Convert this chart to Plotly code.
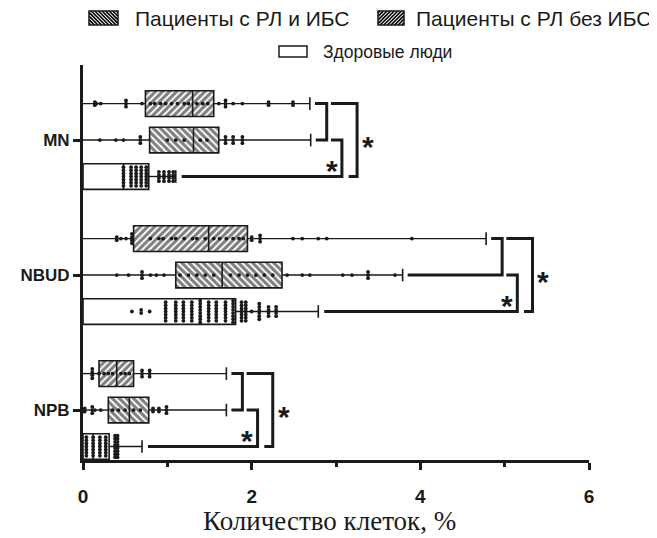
import plotly.graph_objects as go
from collections import Counter

# ---------------- data ----------------
groups = ["MN", "NBUD", "NPB"]
group_pos = [2, 1, 0]
series_names = ["Пациенты с РЛ без ИБС", "Пациенты с РЛ и ИБС", "Здоровые люди"]
x_title = "Количество клеток, %"

# box statistics, ordered as groups (MN, NBUD, NPB)
min_bez = [0.0, 0.0, 0.0]
q1_bez = [0.74, 0.60, 0.19]
med_bez = [1.30, 1.49, 0.40]
q3_bez = [1.55, 1.95, 0.60]
max_bez = [2.69, 4.78, 1.70]

min_ibs = [0.0, 0.0, 0.0]
q1_ibs = [0.79, 1.10, 0.30]
med_ibs = [1.31, 1.65, 0.55]
q3_ibs = [1.61, 2.36, 0.78]
max_ibs = [2.70, 3.79, 1.70]

min_h = [0.0, 0.0, 0.0]
q1_h = [0.0, 0.0, 0.0]
med_h = [0.48, 1.39, 0.12]
q3_h = [0.78, 1.81, 0.31]
max_h = [1.10, 2.79, 0.70]

# individual observations (repeated values are stacked)
pts_bez_MN = [0.14, 0.14, 0.16, 0.21, 0.51, 0.51, 0.51, 0.70, 0.80, 0.85, 0.92, 0.98, 1.05,
              1.12, 1.20, 1.25, 1.35, 1.42, 1.48, 1.61, 1.69, 1.69, 1.69, 1.78, 1.89,
              2.20, 2.20, 2.49, 2.49]
pts_ibs_MN = [0.20, 0.39, 0.48, 0.68, 0.68, 0.68, 1.00, 1.10, 1.20, 1.39, 1.47,
              1.69, 1.69, 1.69, 1.78, 1.78, 1.78, 1.89, 1.89, 1.89]
pts_h_MN = [0.48] * 7 + [0.57] * 7 + [0.63] * 7 + [0.69] * 7 + [0.75] * 7 + \
           [0.90] * 4 + [0.96] * 4 + [1.02] * 4 + [1.07] * 4

pts_bez_NBUD = [0.40, 0.40, 0.45, 0.51, 0.58, 0.58, 0.58, 0.58, 0.80, 0.90, 0.95, 1.05,
                1.10, 1.20, 1.30, 1.35, 1.45, 1.55, 1.62, 1.70, 1.78, 1.85, 1.90,
                2.00, 2.00, 2.10, 2.10, 2.10, 2.49, 2.60, 2.79, 2.89, 3.90]
pts_ibs_NBUD = [0.40, 0.54, 0.70, 0.70, 0.70, 0.80, 0.87, 0.96, 1.15, 1.25, 1.35, 1.45,
                1.55, 1.75, 1.85, 1.95, 2.05, 2.15, 2.25, 2.42, 2.60, 2.69, 3.08, 3.19,
                3.38, 3.38, 3.38, 3.70]
pts_h_NBUD = [0.58, 0.69, 0.69, 0.79] + [0.98] * 7 + [1.10] * 7 + [1.19] * 7 + [1.29] * 7 + \
             [1.39] * 8 + [1.49] * 7 + [1.58] * 7 + [1.69] * 7 + [1.78] * 8 + \
             [1.88] * 7 + [1.93] * 7 + [2.00] + [2.09] * 6 + [2.20] * 4 + [2.29] * 4

pts_bez_NPB = [0.11, 0.11, 0.11, 0.11, 0.19, 0.25, 0.30, 0.35, 0.45, 0.50, 0.55,
               0.70, 0.70, 0.70, 0.79, 0.79, 0.79]
pts_ibs_NPB = [0.02, 0.02, 0.11, 0.11, 0.11, 0.14, 0.21, 0.35, 0.42, 0.50, 0.60, 0.68,
               0.83, 0.83, 0.90, 0.90, 0.99, 0.99, 0.99]
pts_h_NPB = [0.04] * 7 + [0.12] * 7 + [0.20] * 7 + [0.27] * 7 + [0.38] * 8 + [0.41] * 8

# ---------------- style ----------------
INK = "#1a1a1a"
row_offsets = [0.27, 0.0, -0.27]      # top, middle, bottom row inside a group
box_h = 0.19
stack_step = 0.023
patterns = ["/", "\\", ""]

series = [
    dict(name=series_names[0], mn=min_bez, q1=q1_bez, med=med_bez, q3=q3_bez, mx=max_bez,
         pts=[pts_bez_MN, pts_bez_NBUD, pts_bez_NPB]),
    dict(name=series_names[1], mn=min_ibs, q1=q1_ibs, med=med_ibs, q3=q3_ibs, mx=max_ibs,
         pts=[pts_ibs_MN, pts_ibs_NBUD, pts_ibs_NPB]),
    dict(name=series_names[2], mn=min_h, q1=q1_h, med=med_h, q3=q3_h, mx=max_h,
         pts=[pts_h_MN, pts_h_NBUD, pts_h_NPB]),
]


def stack(values, yc):
    xs, ys = [], []
    for v, n in Counter(values).items():
        for k in range(n):
            xs.append(v)
            ys.append(yc + (k - (n - 1) / 2) * stack_step)
    return xs, ys


fig = go.Figure()

for si, s in enumerate(series):
    ys = [gp + row_offsets[si] for gp in group_pos]
    fig.add_trace(go.Bar(
        orientation="h", y=ys, base=s["q1"],
        x=[b - a for a, b in zip(s["q1"], s["q3"])],
        width=box_h, showlegend=False, hoverinfo="skip",
        marker=dict(color="white", line=dict(color=INK, width=1.6),
                    pattern=dict(shape=patterns[si], fgcolor="#000000", bgcolor="white",
                                 size=5, solidity=0.62)),
    ))
    wx, wy, mxs, mys = [], [], [], []
    for gi in range(3):
        y = ys[gi]
        if s["q1"][gi] > s["mn"][gi]:
            wx += [s["mn"][gi], s["q1"][gi], None]
            wy += [y, y, None]
        wx += [s["q3"][gi], s["mx"][gi], None]
        wy += [y, y, None]
        mxs += [s["med"][gi], s["med"][gi], None]
        mys += [y - box_h / 2, y + box_h / 2, None]
    fig.add_trace(go.Scatter(x=wx, y=wy, mode="lines", line=dict(color=INK, width=1.4),
                             showlegend=False, hoverinfo="skip"))
    fig.add_trace(go.Scatter(x=mxs, y=mys, mode="lines", line=dict(color=INK, width=1.6),
                             showlegend=False, hoverinfo="skip"))
    fig.add_trace(go.Scatter(x=s["mx"], y=ys, mode="markers",
                             marker=dict(symbol="line-ns", size=9, line=dict(color=INK, width=1.6)),
                             showlegend=False, hoverinfo="skip"))
    px, py = [], []
    for gi in range(3):
        a, b = stack(s["pts"][gi], ys[gi])
        px += a
        py += b
    fig.add_trace(go.Scatter(x=px, y=py, mode="markers",
                             marker=dict(size=3.8, color=INK), showlegend=False,
                             hoverinfo="skip"))

# ---------------- significance brackets ----------------
shapes = []
annotations = []
for gi, gp in enumerate(group_pos):
    yt, ym, yb = gp + row_offsets[0], gp + row_offsets[1], gp + row_offsets[2]
    top_max, mid_max, h_max = max_bez[gi], max_ibs[gi], max_h[gi]
    a1 = max(top_max, mid_max) + 0.19
    b0, b1 = a1 + 0.05, a1 + 0.18
    c1 = b1 + 0.18
    paths = [
        f"M {top_max + 0.06},{yt} L {a1},{yt} L {a1},{ym} L {mid_max + 0.06},{ym}",
        f"M {b0},{ym} L {b1},{ym} L {b1},{yb} L {h_max + 0.07},{yb}",
        f"M {b0},{yt} L {c1},{yt} L {c1},{yb} L {b1 + 0.08},{yb}",
    ]
    for p in paths:
        shapes.append(dict(type="path", path=p, xref="x", yref="y",
                           line=dict(color=INK, width=3)))
    annotations.append(dict(x=b1 - 0.12, y=gp - 0.165, xref="x", yref="y", text="*",
                            showarrow=False, yshift=-8,
                            font=dict(family="Liberation Sans", size=30, color=INK, weight=700)))
    annotations.append(dict(x=c1 + 0.13, y=gp + 0.01, xref="x", yref="y", text="*",
                            showarrow=False, yshift=-8,
                            font=dict(family="Liberation Sans", size=30, color=INK, weight=700)))

# ---------------- manual legend (positions in page pixels) ----------------
OFFX, OFFY = 8, 8
L, T, PW, PH = 75, 57, 506, 395


def pxx(px):
    return (px - OFFX - L) / PW


def pyy(py):
    return (T + PH - (py - OFFY)) / PH


def hatch_path(x0, y0, x1, y1, sp, kind):
    segs = []
    if kind == "/":
        c = x0 + y0 + sp / 2
        while c < x1 + y1:
            xa, xb = max(x0, c - y1), min(x1, c - y0)
            if xb > xa:
                segs.append(f"M {pxx(xa)},{pyy(c - xa)} L {pxx(xb)},{pyy(c - xb)}")
            c += sp
    else:
        c = x0 - y1 + sp / 2
        while c < x1 - y0:
            xa, xb = max(x0, c + y0), min(x1, c + y1)
            if xb > xa:
                segs.append(f"M {pxx(xa)},{pyy(xa - c)} L {pxx(xb)},{pyy(xb - c)}")
            c += sp
    return " ".join(segs)


legend_items = [
    (series_names[1], "\\", 89, 118, 11, 25, 133, 18, 21),
    (series_names[0], "/", 378, 404, 11, 25, 414, 18, 21),
    (series_names[2], "", 279, 307, 46, 57, 321, 52, 17.5),
]
for name, kind, x0, x1, y0, y1, tx, ty, fs in legend_items:
    if kind:
        shapes.append(dict(type="path", path=hatch_path(x0, y0, x1, y1, 3.6, kind),
                           xref="paper", yref="paper", line=dict(color="#000000", width=1.7)))
    shapes.append(dict(type="rect", xref="paper", yref="paper",
                       x0=pxx(x0), x1=pxx(x1), y0=pyy(y1), y1=pyy(y0),
                       line=dict(color=INK, width=1.5), fillcolor="rgba(0,0,0,0)"))
    annotations.append(dict(x=pxx(tx), y=pyy(ty), xref="paper", yref="paper", text=name,
                            showarrow=False, xanchor="left", yanchor="middle",
                            font=dict(family="Liberation Sans", size=fs, color=INK)))

# axis title (slightly left of the plot centre, as in the original)
annotations.append(dict(x=pxx(329), y=pyy(521), xref="paper", yref="paper", text=x_title,
                        showarrow=False, xanchor="center", yanchor="middle",
                        font=dict(family="Liberation Serif", size=27, color=INK)))

fig.update_layout(
    width=657, height=538,
    margin=dict(l=L, r=657 - L - PW, t=T, b=538 - T - PH),
    paper_bgcolor="white", plot_bgcolor="white",
    showlegend=False, barmode="overlay",
    shapes=shapes, annotations=annotations,
    font=dict(family="Liberation Sans", color=INK),
    xaxis=dict(range=[0, 6], showgrid=False, zeroline=False, showline=True,
               linecolor=INK, linewidth=3, ticks="outside", tickwidth=3, ticklen=7,
               tickcolor=INK, tickvals=[0, 2, 4, 6], ticklabelstandoff=10,
               minor=dict(tickvals=[1, 3, 5], ticks="outside", ticklen=4, tickwidth=3,
                          tickcolor=INK),
               tickfont=dict(family="Liberation Sans", size=19, color=INK, weight=700)),
    yaxis=dict(range=[-0.37, 2.556], showgrid=False, zeroline=False, showline=True,
               linecolor=INK, linewidth=3, ticks="outside", tickwidth=3, ticklen=7,
               tickcolor=INK, tickvals=group_pos, ticktext=groups,
               tickfont=dict(family="Liberation Sans", size=17, color=INK, weight=700)),
)

fig.write_html("out.html")
